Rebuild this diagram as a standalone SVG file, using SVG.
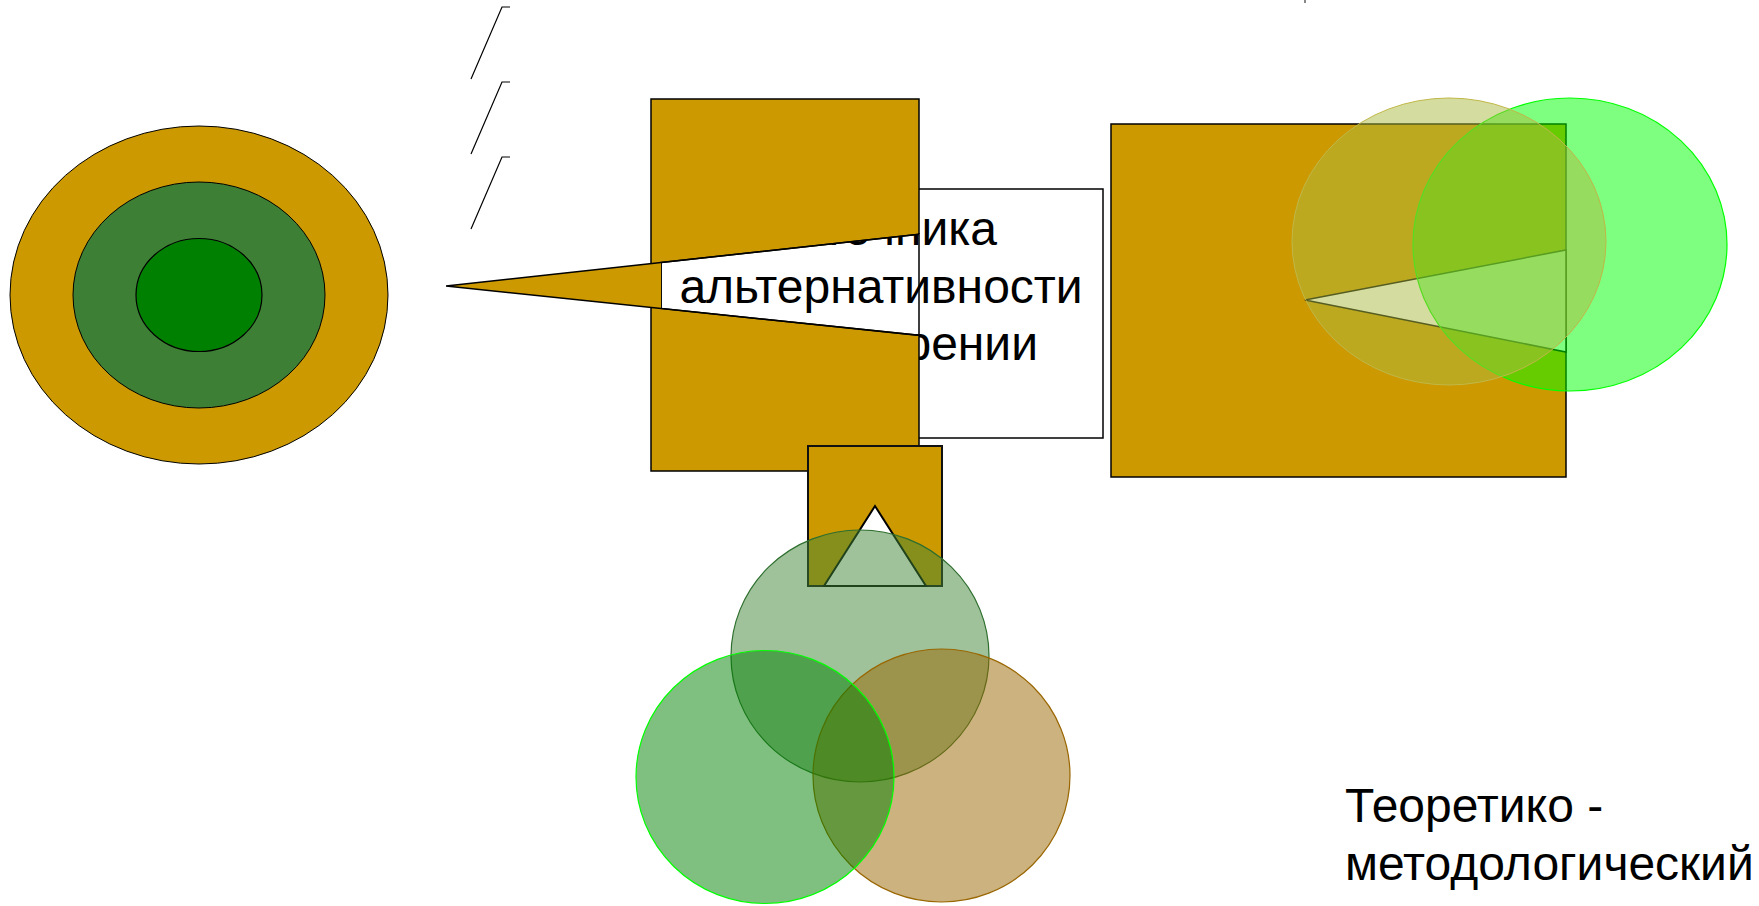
<svg xmlns="http://www.w3.org/2000/svg" width="1759" height="906" viewBox="0 0 1759 906">
<defs>
<style>
.brick{fill:#cc9900;stroke:#000;stroke-width:1.5}
.t{font-family:"Liberation Sans",Arial,sans-serif;font-size:48px;fill:#000}
.ln{fill:none;stroke:#000;stroke-width:1.2}
</style>
</defs>
<rect width="1759" height="906" fill="#fff"/>
<g id="target">
<ellipse cx="199" cy="295" rx="189" ry="169" fill="#cc9900" stroke="#000" stroke-width="1"/>
<ellipse cx="199" cy="295" rx="126" ry="113" fill="#3d8035" stroke="#000" stroke-width="1"/>
<ellipse cx="199" cy="295" rx="63" ry="56.5" fill="#008000" stroke="#000" stroke-width="1.2"/>
</g>
<g id="connectors">
<path class="ln" d="M471,79 L502,7 L510,7"/>
<path class="ln" d="M471,154 L502,82 L510,82"/>
<path class="ln" d="M471,229 L502,157 L510,157"/>
<rect x="1304" y="0" width="2" height="3" fill="#888"/>
</g>
<g id="textbox">
<rect x="661" y="189" width="442" height="249" fill="#fff" stroke="#000" stroke-width="1.5"/>
<text class="t" x="997" y="245" text-anchor="end">источника</text>
<text class="t" x="881" y="302.5" text-anchor="middle">альтернативности</text>
<text class="t" x="1038" y="360" text-anchor="end">мировоззрении</text>
</g>
<g id="block-left">
<path class="brick" fill-rule="evenodd" d="M651,99 H919 V471 H651 Z M661,262.5 L919,234.3 L919,335.3 L661,308.4 Z"/>
<polygon points="446,286 661,262.5 661,308.4" fill="#cc9900"/>
<path fill="none" stroke="#000" stroke-width="1.5" d="M446,286 L919,234.3 M446,286 L919,335.3"/>
</g>
<g id="block-small">
<rect x="808" y="446" width="134" height="140" fill="#cc9900" stroke="#111" stroke-width="2"/>
<polygon points="875,506 824,586 926,586" fill="#fff" stroke="#000" stroke-width="2"/>
</g>
<g id="venn-bottom">
<ellipse cx="860" cy="656" rx="129" ry="126" fill="#3f8535" fill-opacity="0.5" stroke="#2e6e2e" stroke-width="1.2"/>
<ellipse cx="941.5" cy="775.5" rx="128.5" ry="126.5" fill="#996600" fill-opacity="0.5" stroke="#996600" stroke-width="1.2"/>
<ellipse cx="765" cy="777" rx="129" ry="126.5" fill="#008000" fill-opacity="0.5" stroke="#00ff00" stroke-width="1.2"/>
</g>
<g id="block-right">
<rect class="brick" x="1111" y="124" width="455" height="353"/>
<polygon points="1305,300 1566,250 1566,352" fill="#fff" stroke="#000" stroke-width="1.5"/>
<ellipse cx="1570" cy="244.5" rx="157" ry="146.5" fill="#00ff00" fill-opacity="0.5" stroke="#00ff00" stroke-width="1.2"/>
<ellipse cx="1449" cy="241.5" rx="157" ry="143.5" fill="#abb940" fill-opacity="0.5" stroke="#c0b848" stroke-width="1"/>
</g>
<g id="label">
<text class="t" x="1345" y="822">Теоретико -</text>
<text class="t" x="1345" y="880">методологический</text>
</g>
</svg>
